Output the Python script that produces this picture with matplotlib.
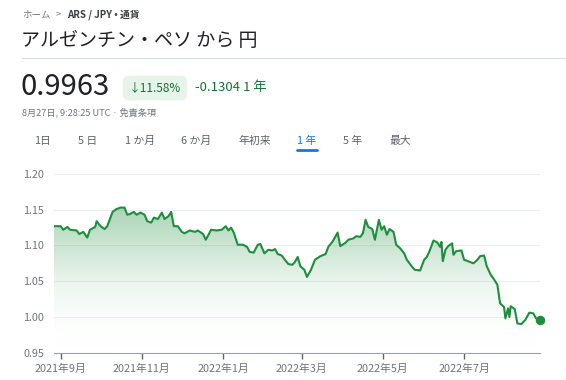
import numpy as np
import pandas as pd
import matplotlib
matplotlib.use("Agg")
import matplotlib.pyplot as plt
import matplotlib.dates as mdates
from matplotlib.colors import LinearSegmentedColormap
from matplotlib.patches import PathPatch
from matplotlib.ticker import FuncFormatter

plt.rcParams['font.family'] = ['Noto Sans CJK JP', 'DejaVu Sans']

# ARS/JPY, one year
start = "2021-08-27"
day_offsets = [0, 5, 7, 10, 12, 17, 19, 22, 25, 27, 31, 32, 35, 38, 40, 42, 44, 47, 50, 53,
               55, 57, 60, 62, 65, 68, 70, 73, 75, 78, 81, 83, 86, 88, 90, 93, 96, 98, 102, 106,
               108, 112, 114, 116, 118, 122, 126, 129, 131, 133, 135, 138, 142, 145, 147, 150, 153, 155, 158, 161,
               164, 166, 168, 171, 173, 176, 179, 181, 183, 185, 188, 190, 193, 196, 200, 204, 206, 209, 210, 213,
               215, 219, 221, 225, 227, 230, 232, 234, 236, 239, 241, 244, 246, 248, 250, 252, 255, 257, 260, 263,
               265, 269, 271, 275, 278, 280, 282, 285, 288, 290, 291, 292, 294, 296, 299, 300, 302, 306, 308, 311,
               315, 318, 320, 323, 325, 328, 330, 333, 335, 338, 339, 341, 342, 343, 346, 348, 351, 354, 357, 360,
               362, 365]
rates = [1.127, 1.127, 1.122, 1.126, 1.122, 1.121, 1.116, 1.119, 1.111, 1.122, 1.126, 1.134, 1.127, 1.123, 1.127, 1.137, 1.147, 1.151, 1.153, 1.153,
         1.143, 1.144, 1.147, 1.143, 1.146, 1.143, 1.134, 1.132, 1.139, 1.137, 1.146, 1.137, 1.141, 1.147, 1.127, 1.127, 1.119, 1.117, 1.121, 1.119,
         1.121, 1.116, 1.108, 1.115, 1.122, 1.121, 1.122, 1.127, 1.121, 1.125, 1.118, 1.101, 1.101, 1.098, 1.091, 1.090, 1.101, 1.102, 1.089, 1.094,
         1.093, 1.095, 1.088, 1.086, 1.081, 1.074, 1.073, 1.077, 1.084, 1.071, 1.066, 1.056, 1.066, 1.080, 1.085, 1.088, 1.098, 1.105, 1.108, 1.118,
         1.099, 1.104, 1.108, 1.110, 1.113, 1.112, 1.117, 1.136, 1.126, 1.123, 1.108, 1.136, 1.122, 1.127, 1.115, 1.123, 1.119, 1.101, 1.096, 1.089,
         1.080, 1.070, 1.066, 1.065, 1.080, 1.084, 1.092, 1.107, 1.104, 1.098, 1.105, 1.078, 1.094, 1.099, 1.103, 1.087, 1.092, 1.093, 1.080, 1.078,
         1.075, 1.080, 1.085, 1.086, 1.071, 1.059, 1.054, 1.045, 1.019, 1.014, 0.998, 1.012, 1.000, 1.015, 1.011, 0.991, 0.990, 0.996, 1.006, 1.005,
         0.998, 0.9963]

y_ticks = [0.95, 1.00, 1.05, 1.10, 1.15, 1.20]
month_ticks = ["2021-09-01", "2021-11-01", "2022-01-01", "2022-03-01", "2022-05-01", "2022-07-01"]
tabs = ["1日", "5 日", "1 か月", "6 か月", "年初来", "1 年", "5 年", "最大"]
tab_x = [42, 88, 140, 196, 255, 307, 353, 400]
active_tab = "1 年"

GREEN = "#1e8e3e"
GREY = "#70757a"
DARK = "#202124"

dates = pd.Timestamp(start) + pd.to_timedelta(day_offsets, unit="D")
xnum = mdates.date2num(dates)

W, H = 566, 380
fig = plt.figure(figsize=(W / 100, H / 100), dpi=100)

def px(x, y):
    return x / W, 1 - y / H

# header
fig.text(*px(22, 15), "ホーム", fontsize=6.8, color=GREY, va="center")
fig.text(*px(56, 15), ">", fontsize=6.8, color=GREY, va="center")
fig.text(*px(67, 15), "ARS / JPY • 通貨", fontsize=7, color="#3c4043", va="center", fontweight="bold")
fig.text(*px(21, 40), "アルゼンチン・ペソ から 円", fontsize=13.7, color=DARK, va="center")
fig.add_artist(plt.Line2D([22 / W, 1], [1 - 58 / H] * 2, color="#dadce0", lw=0.8))
fig.text(*px(20, 87), "0.9963", fontsize=21, color=DARK, va="center")
fig.text(*px(155, 88), "↓11.58%", fontsize=8.5, color="#137333", va="center", ha="center",
         bbox=dict(boxstyle="round,pad=0.5,rounding_size=0.5", fc="#e6f4ea", ec="none"))
fig.text(*px(195, 88), "-0.1304 1 年", fontsize=9.5, color="#137333", va="center")
fig.text(*px(22, 112), "8月27日, 9:28:25 UTC · 免責条項", fontsize=6.6, color=GREY, va="center")

for t, x in zip(tabs, tab_x):
    c = "#1a73e8" if t == active_tab else "#5f6368"
    fig.text(*px(x, 141), t, fontsize=7.8, color=c, va="center", ha="center")
    if t == active_tab:
        fig.add_artist(plt.Line2D([(x - 10) / W, (x + 10) / W], [1 - 150 / H] * 2,
                                  color="#1a73e8", lw=2, solid_capstyle="round"))

# chart
x0, x1 = 54, 540
y_bot, y_top = 352.7, 174
ax = fig.add_axes([x0 / W, 1 - y_bot / H, (x1 - x0) / W, (y_bot - y_top) / H])

ax.plot(xnum, rates, color=GREEN, lw=1.5, zorder=3)
ax.scatter([xnum[-1]], [rates[-1]], s=34, color=GREEN, zorder=4, clip_on=False)

cmap = LinearSegmentedColormap.from_list("fade", [(1, 1, 1, 0), (0.12, 0.56, 0.24, 0.10),
                                                   (0.12, 0.56, 0.24, 0.38)])
grad = np.linspace(0, 1, 256).reshape(-1, 1)
im = ax.imshow(grad, extent=[xnum[0], xnum[-1], 0.95, 1.155], origin="lower",
               aspect="auto", cmap=cmap, zorder=1, interpolation="bilinear")
poly = ax.fill_between(xnum, rates, 0.95, color="none")
clip = PathPatch(poly.get_paths()[0], transform=ax.transData, facecolor="none", edgecolor="none")
ax.add_patch(clip)
im.set_clip_path(clip)

ax.set_xlim(xnum[0], xnum[-1])
ax.set_ylim(0.95, 1.20)
ax.set_yticks(y_ticks)
ax.set_yticklabels([f"{v:.2f}" for v in y_ticks])
ax.set_xticks(mdates.date2num(pd.to_datetime(month_ticks)))
ax.xaxis.set_major_formatter(FuncFormatter(
    lambda v, p: f"{mdates.num2date(v).year}年{mdates.num2date(v).month}月"))

for v in y_ticks[1:]:
    ax.axhline(v, color="#eceef0", lw=0.8, zorder=0)

for s in ["top", "right", "left"]:
    ax.spines[s].set_visible(False)
ax.spines["bottom"].set_color("#9aa0a6")
ax.spines["bottom"].set_linewidth(0.8)
ax.tick_params(axis="y", length=0, pad=7, labelsize=7.8, labelcolor=GREY)
ax.tick_params(axis="x", length=4, width=1, color="#5f6368", pad=4, labelsize=7.8, labelcolor=GREY)
ax.set_facecolor("none")

fig.savefig("out.png", dpi=100)
